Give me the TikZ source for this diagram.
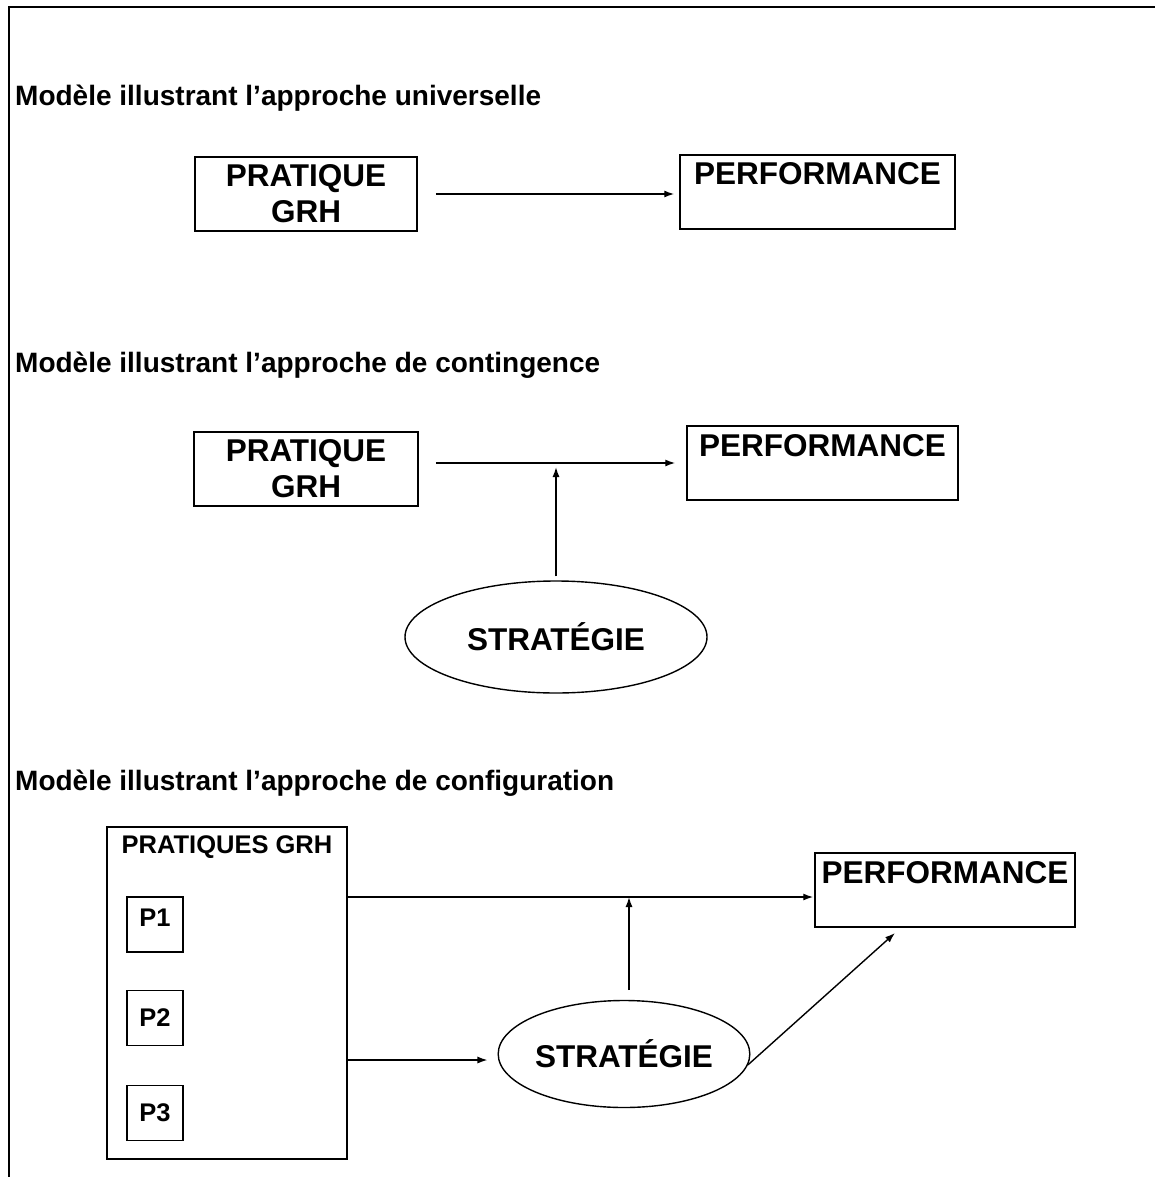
\documentclass[tikz,border=0pt]{standalone}
\usepackage{fontspec}
\setmainfont{Liberation Sans}
\usetikzlibrary{shapes.geometric,arrows.meta}

\begin{document}
\begin{tikzpicture}[x=1pt, y=-1pt,
		boite/.style={draw, line width=1.5pt, inner sep=0pt, align=center, font=\bfseries\fontsize{31.5}{36}\selectfont},
		bulle/.style={draw, ellipse, line width=1.4pt, inner sep=0pt, font=\bfseries\fontsize{31.5}{36}\selectfont},
		titre/.style={anchor=base west, inner sep=0pt, font=\bfseries\fontsize{28}{32}\selectfont},
		petit/.style={draw, line width=1.5pt, inner sep=0pt, minimum width=56pt, minimum height=55pt, font=\bfseries\fontsize{25.5}{30}\selectfont},
		fleche/.style={line width=1.4pt, -{Latex[length=10pt, width=7pt]}}]
			%%%%% START %%%%%
			
			\useasboundingbox (0,0) rectangle (1155,1177);
			\draw[line width=2pt] (9,1177) -- (9,7) -- (1155,7);
			
			%%%%% approche universelle
			\node[titre] (titreA) at (15,106) {Modèle illustrant l’approche universelle};
			\node[boite, minimum width=222pt, minimum height=74pt] (pratA) at (306,194) {PRATIQUE\\GRH};
			\node[boite, minimum width=275pt, minimum height=74pt] (perfA) at (817.5,192) {PERFORMANCE\\~};
			\draw[fleche] ([xshift=18pt]pratA.east) -- ([xshift=-5pt]perfA.west |- pratA.east);
			
			%%%%% approche de contingence
			\node[titre] (titreB) at (15,372) {Modèle illustrant l’approche de contingence};
			\node[boite, minimum width=224pt, minimum height=74pt] (pratB) at (306,469) {PRATIQUE\\GRH};
			\node[boite, minimum width=271pt, minimum height=74pt] (perfB) at (822.5,463) {PERFORMANCE\\~};
			\node[bulle, minimum width=302pt, minimum height=112pt] (stratB) at (556,637) {STRATÉGIE};
			\coordinate (croixB) at (556,463);
			\draw[fleche] ([xshift=17pt]pratB.east |- perfB.west) -- ([xshift=-11pt]perfB.west);
			\draw[fleche] ([yshift=4pt]stratB.north) -- ([yshift=-4pt]croixB);
			
			%%%%% approche de configuration
			\node[titre] (titreC) at (15,790) {Modèle illustrant l’approche de configuration};
			\node[draw, line width=1.5pt, inner sep=0pt, minimum width=240pt, minimum height=332pt] (pratC) at (227,993) {};
			\node[anchor=base, inner sep=0pt, font=\bfseries\fontsize{25.5}{30}\selectfont] (etiqC) at (227,853) {PRATIQUES GRH};
			\node[petit, text depth=14pt] (pA) at (155,924.5) {P1};
			\node[petit] (pB) at (155,1018) {P2};
			\node[petit] (pC) at (155,1113) {P3};
			\node[boite, minimum width=260pt, minimum height=74pt] (perfC) at (945,890) {PERFORMANCE\\~};
			\node[bulle, minimum width=241pt, minimum height=107pt] (stratC) at (624,1054) {STRATÉGIE};
			
			\coordinate (croixC) at (629,897);
			\coordinate (hautC) at (629,990);
			\coordinate (basC) at (347,1060);
			\coordinate (cibleC) at (895,933);
			\draw[fleche] (pratC.east |- croixC) -- ([xshift=-1pt]perfC.west |- croixC);
			\draw[fleche] (hautC) -- (croixC);
			\draw[fleche] (basC) -- ([xshift=-10pt]stratC.west |- basC);
			\draw[fleche] (stratC.-5) -- (cibleC);
			
			%%%%% END %%%%%
		\end{tikzpicture}
\end{document}
